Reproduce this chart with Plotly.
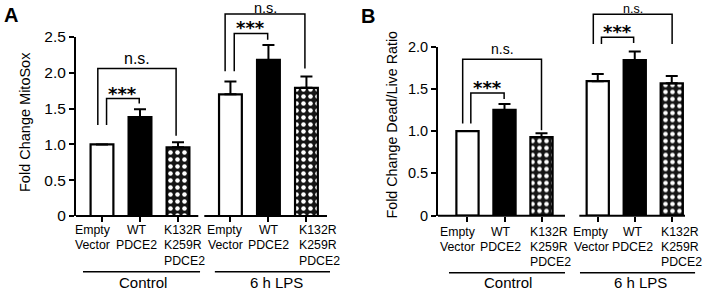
import plotly.graph_objects as go

# ---------------- data ----------------
groups = ["Control", "6 h LPS"]
conditions = ["Empty<br>Vector", "WT<br>PDCE2", "K132R<br>K259R<br>PDCE2"]

mitosox_control = [1.00, 1.38, 0.96]
mitosox_control_err = [0.0, 0.11, 0.07]
mitosox_lps = [1.70, 2.18, 1.79]
mitosox_lps_err = [0.18, 0.21, 0.16]

deadlive_control = [1.00, 1.25, 0.93]
deadlive_control_err = [0.0, 0.07, 0.045]
deadlive_lps = [1.59, 1.84, 1.565]
deadlive_lps_err = [0.085, 0.10, 0.085]

y_ticks_a = [0, 0.5, 1.0, 1.5, 2.0, 2.5]
y_ticks_b = [0, 0.5, 1.0, 1.5, 2.0]

# ---------------- layout constants ----------------
W, H = 703, 292
FONT = "Arial, Liberation Sans, Helvetica, sans-serif"
STAR_FONT = "DejaVu Sans, Arial, sans-serif"

panels = {
    "A": dict(xdom=(76 / W, 327 / W), ydom=(1 - 216 / H, 1 - 37 / H),
              xr=(-0.684, 5.921), yr=(0, 2.5), lps_offset=3.38, bw=0.60,
              xaxis="x", yaxis="y", tickfs=15.5, nsfs=16,
              base_breaks=[(-0.684, 2.534), (2.692, 5.921)],
              group_lines=[(-0.5, 2.58), (2.97, 6.0)], group_label_x=[1.08, 4.59],
              group_line_px=271.7, group_label_px=282.5,
              label_x=[-0.24, 0.92, 1.58, 3.25, 4.39, 5.12],
              label_line_px=[229.5, 245, 260.5]),
    "B": dict(xdom=(438 / W, 685 / W), ydom=(1 - 215.7 / H, 1 - 46.5 / H),
              xr=(-0.797, 5.878), yr=(0, 2.0), lps_offset=3.52, bw=0.60,
              xaxis="x2", yaxis="y2", tickfs=14.5, nsfs=14,
              base_breaks=[(-0.797, 2.635), (3.022, 5.878)],
              group_lines=[(-0.5, 2.635), (3.04, 6.15)], group_label_x=[1.09, 4.68],
              group_line_px=272.7, group_label_px=282.5,
              label_x=[-0.26, 0.905, 1.64, 3.34, 4.47, 5.18],
              label_line_px=[231.5, 247, 262]),
}
label_anchor = ["center", "center", "left"]


def px(p, xv):
    d0, d1 = p["xdom"]
    r0, r1 = p["xr"]
    return d0 + (xv - r0) / (r1 - r0) * (d1 - d0)


def py(p, yv):
    d0, d1 = p["ydom"]
    r0, r1 = p["yr"]
    return d0 + (yv - r0) / (r1 - r0) * (d1 - d0)


def pix_y(v):
    return 1 - v / H


def ann(x, y, text, size, family=FONT, xanchor="center", yanchor="middle", **kw):
    return dict(xref="paper", yref="paper", x=x, y=y, text=text, showarrow=False,
                xanchor=xanchor, yanchor=yanchor,
                font=dict(family=family, size=size, color="black"), **kw)


fig = go.Figure()
shapes = []
annotations = []

panel_data = {
    "A": (mitosox_control, mitosox_control_err, mitosox_lps, mitosox_lps_err),
    "B": (deadlive_control, deadlive_control_err, deadlive_lps, deadlive_lps_err),
}

styles = [
    dict(color="white", line=dict(color="black", width=2.2)),
    dict(color="black", line=dict(color="black", width=2.2)),
    dict(color="black", line=dict(color="black", width=2.2),
         pattern=dict(shape=".", fillmode="replace", bgcolor="#151515",
                      fgcolor="white", size=7, solidity=0.33)),
]

for key, p in panels.items():
    ctrl, ctrl_e, lps, lps_e = panel_data[key]
    pos_ctrl = [0, 1, 2]
    pos_lps = [p["lps_offset"] + i for i in range(3)]
    p["pos"] = pos_ctrl + pos_lps
    for i in range(3):
        fig.add_trace(go.Bar(
            x=[pos_ctrl[i], pos_lps[i]], y=[ctrl[i], lps[i]],
            width=p["bw"], marker=styles[i], showlegend=False,
            error_y=dict(type="data", symmetric=False,
                         array=[ctrl_e[i], lps_e[i]], arrayminus=[0, 0],
                         color="black", thickness=2, width=6),
            xaxis=p["xaxis"], yaxis=p["yaxis"],
        ))
    # broken baseline
    for a, b in p["base_breaks"]:
        shapes.append(dict(type="line", xref="paper", yref="paper",
                           x0=px(p, a), x1=px(p, b), y0=py(p, 0), y1=py(p, 0),
                           line=dict(color="black", width=2)))
    # category labels (one annotation per text line)
    for j, lx in enumerate(p["label_x"]):
        lines = conditions[j % 3].split("<br>")
        for k, line in enumerate(lines):
            annotations.append(ann(px(p, lx), pix_y(p["label_line_px"][k]), line, 12.3,
                                   xanchor=label_anchor[j % 3]))
    # group lines + labels
    for (a, b), lx, g in zip(p["group_lines"], p["group_label_x"], groups):
        shapes.append(dict(type="line", xref="paper", yref="paper",
                           x0=px(p, a), x1=px(p, b),
                           y0=pix_y(p["group_line_px"]), y1=pix_y(p["group_line_px"]),
                           line=dict(color="black", width=1.5)))
        annotations.append(ann(px(p, lx), pix_y(p["group_label_px"]), g, 15))

# ---------------- significance brackets ----------------
# (panel, x_left, x_right, y_top, y_left_bottom, y_right_bottom, label)
brackets = [
    ("A", -0.11, 1.95, 2.06, 1.27, 1.12, "n.s."),
    ("A", 0.12, 0.98, 1.64, 1.27, 1.57, "***"),
    ("A", 3.24, 5.34, 2.82, 2.02, 2.06, "n.s."),
    ("A", 3.48, 4.36, 2.55, 2.02, 2.46, "***"),
    ("B", -0.13, 2.00, 1.85, 1.09, 1.01, "n.s."),
    ("B", 0.09, 0.99, 1.45, 1.09, 1.38, "***"),
    ("B", 3.40, 5.53, 2.38, 2.03, 2.03, "n.s."),
    ("B", 3.62, 4.49, 2.11, 2.03, 2.04, "***"),
]
for key, xl, xr_, yt, ybl, ybr, lab in brackets:
    p = panels[key]
    path = (f"M {px(p, xl)},{py(p, ybl)} L {px(p, xl)},{py(p, yt)} "
            f"L {px(p, xr_)},{py(p, yt)} L {px(p, xr_)},{py(p, ybr)}")
    shapes.append(dict(type="path", xref="paper", yref="paper", path=path,
                       line=dict(color="black", width=1.5)))
    xc = px(p, (xl + xr_) / 2)
    if lab == "***":
        annotations.append(ann(xc, py(p, yt), "<b>***</b>", 18, family=STAR_FONT,
                               yanchor="bottom", yshift=-7))
    else:
        near_top = (1 - py(p, yt)) * H < 20
        annotations.append(ann(xc, py(p, yt), lab,
                               p["nsfs"] - (1.5 if near_top else 0),
                               yanchor="bottom", yshift=-4 if near_top else 0))

# panel letters and y titles
annotations += [
    ann(10.5 / W, pix_y(15), "<b>A</b>", 20),
    ann(367.5 / W, pix_y(16), "<b>B</b>", 20),
    ann(25 / W, pix_y(122), "Fold Change MitoSox", 14.5, textangle=-90),
    ann(391.5 / W, pix_y(125), "Fold Change Dead/Live Ratio", 14.3, textangle=-90),
]


def fmt(v):
    return "0" if v == 0 else f"{v:.1f}"


pa, pb = panels["A"], panels["B"]
common_x = dict(showgrid=False, zeroline=False, showline=False, ticks="outside",
                ticklen=5, tickwidth=2, tickcolor="black", fixedrange=True,
                showticklabels=False, automargin=False)
common_y = dict(showgrid=False, zeroline=False, showline=True, linecolor="black",
                linewidth=2, ticks="outside", ticklen=5, tickwidth=2,
                tickcolor="black", fixedrange=True, automargin=False)

fig.update_layout(
    template="none",
    width=W, height=H, margin=dict(l=0, r=0, t=0, b=0, pad=0),
    paper_bgcolor="white", plot_bgcolor="white", barmode="overlay",
    xaxis=dict(domain=list(pa["xdom"]), range=list(pa["xr"]), anchor="y",
               tickvals=pa["pos"], **common_x),
    yaxis=dict(domain=list(pa["ydom"]), range=list(pa["yr"]), anchor="x",
               tickvals=y_ticks_a, ticktext=[fmt(v) for v in y_ticks_a],
               tickfont=dict(family=FONT, size=pa["tickfs"], color="black"), **common_y),
    xaxis2=dict(domain=list(pb["xdom"]), range=list(pb["xr"]), anchor="y2",
                tickvals=pb["pos"], **common_x),
    yaxis2=dict(domain=list(pb["ydom"]), range=list(pb["yr"]), anchor="x2",
                tickvals=y_ticks_b, ticktext=[fmt(v) for v in y_ticks_b],
                tickfont=dict(family=FONT, size=pb["tickfs"], color="black"), **common_y),
    shapes=shapes, annotations=annotations,
)

fig.write_html("out.html", config={"displayModeBar": False},
               post_script="document.body.style.margin='0';"
                           "document.body.style.overflow='hidden';")
